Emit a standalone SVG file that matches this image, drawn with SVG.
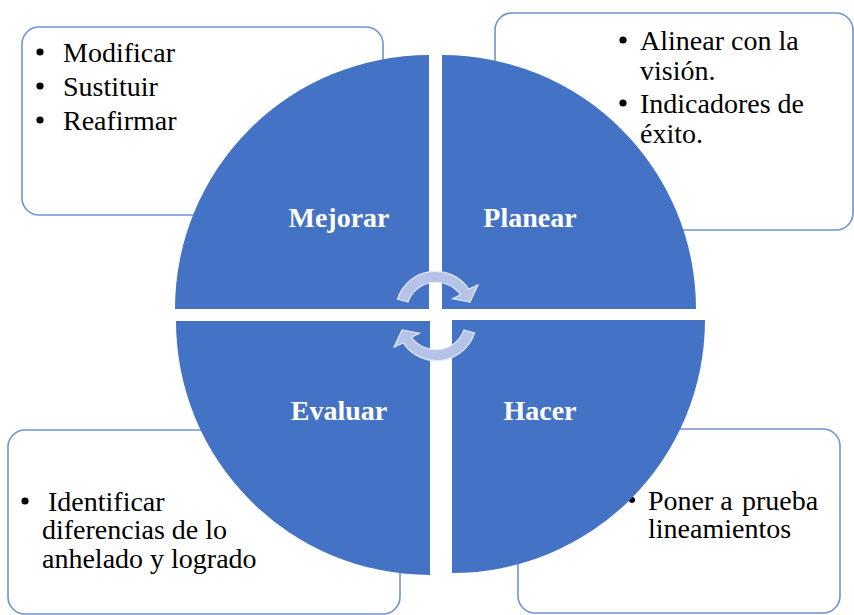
<svg xmlns="http://www.w3.org/2000/svg" width="854" height="615" viewBox="0 0 854 615">
<style>
.box{fill:#ffffff;stroke:#6f93d3;stroke-width:1.6}
.q{fill:#4472c4}
.lbl{font-weight:bold;fill:#ffffff;text-anchor:middle}
.b{fill:#000000}
.arr{fill:#b4c3e7;stroke:#e2e8f6;stroke-width:1.2}
</style>
<rect width="854" height="615" fill="#ffffff"/>
<g id="box-mejorar">
<rect class="box" x="22" y="27" width="361" height="188" rx="17"/>
<circle class="b" cx="40" cy="52" r="3.6"/><text font-family="Times New Roman, Tinos, Liberation Serif, serif" font-size="28" x="63" y="62">Modificar</text>
<circle class="b" cx="40" cy="86" r="3.6"/><text font-family="Times New Roman, Tinos, Liberation Serif, serif" font-size="28" x="63" y="96">Sustituir</text>
<circle class="b" cx="40" cy="120" r="3.6"/><text font-family="Times New Roman, Tinos, Liberation Serif, serif" font-size="28" x="63" y="130">Reafirmar</text>
</g>
<g id="box-planear">
<rect class="box" x="495" y="13" width="358" height="217" rx="17"/>
<circle class="b" cx="623" cy="40" r="3.6"/><text font-family="Times New Roman, Tinos, Liberation Serif, serif" font-size="28" x="640" y="50">Alinear con la</text>
<text font-family="Times New Roman, Tinos, Liberation Serif, serif" font-size="28" x="640" y="80">visión.</text>
<circle class="b" cx="623" cy="103" r="3.6"/><text font-family="Times New Roman, Tinos, Liberation Serif, serif" font-size="28" x="640" y="113">Indicadores de</text>
<text font-family="Times New Roman, Tinos, Liberation Serif, serif" font-size="28" x="640" y="143">éxito.</text>
</g>
<g id="box-evaluar">
<rect class="box" x="8" y="430" width="392" height="184" rx="17"/>
<circle class="b" cx="25" cy="501" r="3.6"/><text font-family="Times New Roman, Tinos, Liberation Serif, serif" font-size="28" x="48" y="511">Identificar</text>
<text font-family="Times New Roman, Tinos, Liberation Serif, serif" font-size="28" x="42" y="539">diferencias de lo</text>
<text font-family="Times New Roman, Tinos, Liberation Serif, serif" font-size="28" x="42" y="568">anhelado y logrado</text>
</g>
<g id="box-hacer">
<rect class="box" x="518" y="429" width="322" height="184" rx="17"/>
<circle class="b" cx="632" cy="500" r="3"/><text font-family="Times New Roman, Tinos, Liberation Serif, serif" font-size="28" x="648" y="510">Poner a <tspan x="742">prueba</tspan></text>
<text font-family="Times New Roman, Tinos, Liberation Serif, serif" font-size="28" x="648" y="538">lineamientos</text>
</g>
<g id="mejorar">
<path class="q" d="M429,309 L175,309 A254,254 0 0 1 429,55 Z"/>
<text class="lbl" font-family="Times New Roman, Tinos, Liberation Serif, serif" font-size="28" x="339" y="227">Mejorar</text>
</g>
<g id="planear">
<path class="q" d="M442,309 L442,55 A254,254 0 0 1 696,309 Z"/>
<text class="lbl" font-family="Times New Roman, Tinos, Liberation Serif, serif" font-size="28" x="530" y="227">Planear</text>
</g>
<g id="evaluar">
<path class="q" d="M430,321 L430,575 A254,254 0 0 1 176,321 Z"/>
<text class="lbl" font-family="Times New Roman, Tinos, Liberation Serif, serif" font-size="28" x="339" y="420">Evaluar</text>
</g>
<g id="hacer">
<path class="q" d="M452,320 L705,320 A253,253 0 0 1 452,573 Z"/>
<text class="lbl" font-family="Times New Roman, Tinos, Liberation Serif, serif" font-size="28" x="540" y="420">Hacer</text>
</g>
<g id="connectors">
<path class="arr" d="M397.5,299 A40,40 0 0 1 468.8,289.1 L478,285 L470,302 L452.5,298.8 L460.6,294.8 A30,30 0 0 0 408,302 Z"/>
<path class="arr" d="M397.5,299 A40,40 0 0 1 468.8,289.1 L478,285 L470,302 L452.5,298.8 L460.6,294.8 A30,30 0 0 0 408,302 Z" transform="rotate(180 436 316)"/>
</g>
</svg>
